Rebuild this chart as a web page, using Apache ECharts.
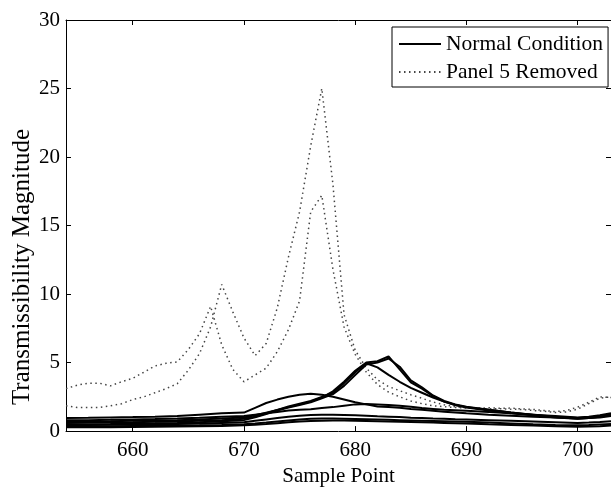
<!DOCTYPE html>
<html>
<head>
<meta charset="utf-8">
<script src="https://cdn.jsdelivr.net/npm/echarts@6/dist/echarts.min.js"></script>
<style>
html,body{margin:0;padding:0;background:#fff;}
#c{width:611px;height:492px;}
</style>
</head>
<body>
<div id="c"></div>
<script>
// ---- data ----
var xTicks = [660, 670, 680, 690, 700];
var yTicksStep = 5;

// dotted curves (Panel 5 Removed), samples 654..703
var dotX = [654,655,656,657,658,659,660,661,662,663,664,665,666,667,668,669,670,671,672,673,674,675,676,677,678,679,680,681,682,683,684,685,686,687,688,689,690,691,692,693,694,695,696,697,698,699,700,701,702,703];
var removedA = [1.85,1.72,1.72,1.72,1.84,2.0,2.3,2.5,2.8,3.1,3.45,4.45,5.65,7.6,10.7,8.7,6.8,5.5,6.4,9.0,12.7,16.0,20.8,25.0,18.0,8.5,5.9,4.6,3.75,3.25,2.95,2.65,2.4,2.12,1.92,1.77,1.7,1.68,1.7,1.66,1.68,1.62,1.58,1.5,1.42,1.5,1.75,2.1,2.5,2.45];
var removedB = [3.1,3.35,3.5,3.5,3.3,3.6,3.85,4.3,4.75,4.95,5.05,5.95,7.1,9.1,6.3,4.5,3.6,4.1,4.6,5.8,7.4,9.5,16.0,17.2,11.8,7.6,5.6,4.3,3.4,2.85,2.5,2.2,2.0,1.85,1.78,1.72,1.68,1.65,1.62,1.64,1.6,1.58,1.5,1.45,1.35,1.4,1.6,2.0,2.4,2.5];

// solid curves (Normal Condition)
var solX = [654,656,658,660,662,664,666,668,670,671,672,673,674,675,676,677,678,679,680,681,682,683,684,685,686,687,688,689,690,692,694,696,698,700,701,702,703];
var normal1 = [0.95,0.97,1.0,1.02,1.05,1.1,1.2,1.3,1.35,1.7,2.05,2.3,2.5,2.65,2.72,2.65,2.5,2.3,2.1,1.95,1.8,1.75,1.7,1.62,1.55,1.48,1.42,1.36,1.3,1.2,1.12,1.05,1.0,0.95,1.0,1.1,1.2];
var normal2 = [0.7,0.7,0.72,0.75,0.78,0.8,0.85,0.92,1.0,1.15,1.35,1.55,1.75,1.95,2.15,2.45,2.9,3.6,4.4,5.0,5.1,5.45,4.5,3.55,3.1,2.55,2.15,1.9,1.75,1.55,1.35,1.2,1.05,0.95,1.0,1.05,1.15];
var normal3 = [0.6,0.62,0.63,0.65,0.68,0.7,0.75,0.8,0.9,1.05,1.3,1.55,1.8,2.0,2.2,2.5,2.8,3.5,4.3,4.95,4.65,4.1,3.6,3.15,2.8,2.45,2.15,1.9,1.72,1.5,1.3,1.15,1.0,0.9,0.95,1.0,1.1];
var normal4 = [0.5,0.5,0.52,0.55,0.57,0.6,0.65,0.72,0.8,1.0,1.25,1.5,1.72,1.9,2.1,2.4,2.7,3.3,4.1,4.85,5.0,5.3,4.7,3.7,3.2,2.6,2.2,1.95,1.78,1.55,1.35,1.18,1.02,0.9,0.95,1.05,1.2];
var normal5 = [0.8,0.8,0.82,0.85,0.88,0.92,0.97,1.05,1.1,1.2,1.3,1.4,1.5,1.55,1.6,1.68,1.75,1.85,1.95,1.97,1.95,1.9,1.85,1.78,1.68,1.62,1.56,1.52,1.48,1.4,1.3,1.2,1.1,1.0,1.05,1.15,1.3];
var normal6 = [0.45,0.45,0.46,0.48,0.5,0.52,0.55,0.6,0.65,0.75,0.85,0.95,1.05,1.12,1.18,1.2,1.2,1.18,1.15,1.12,1.08,1.05,1.02,0.98,0.95,0.92,0.9,0.87,0.85,0.8,0.75,0.7,0.65,0.6,0.62,0.66,0.72];
var normal7 = [0.35,0.35,0.35,0.37,0.38,0.4,0.42,0.45,0.5,0.55,0.62,0.7,0.78,0.85,0.9,0.92,0.92,0.9,0.88,0.86,0.84,0.82,0.8,0.78,0.76,0.74,0.72,0.7,0.68,0.62,0.56,0.5,0.45,0.42,0.44,0.48,0.52];
var normal8 = [0.28,0.28,0.29,0.3,0.31,0.33,0.35,0.38,0.42,0.47,0.52,0.58,0.64,0.7,0.74,0.76,0.77,0.77,0.76,0.74,0.72,0.7,0.68,0.66,0.64,0.62,0.6,0.58,0.56,0.5,0.45,0.4,0.35,0.32,0.33,0.36,0.4];

var normalSets = [normal1, normal2, normal3, normal4, normal5, normal6, normal7, normal8];
var removedSets = [removedA, removedB];

// ---- chart ----
var FONT = '"Liberation Serif","Times New Roman",serif';
function pairs(xs, ys) { return xs.map(function (x, i) { return [x, ys[i]]; }); }

var series = [];
removedSets.forEach(function (ys) {
  series.push({
    name: 'Panel 5 Removed', type: 'line', symbol: 'none', silent: true,
    data: pairs(dotX, ys),
    lineStyle: { color: '#444', width: 1.5, type: [1.5, 3.5] },
    itemStyle: { color: '#444' }, z: 2
  });
});
normalSets.forEach(function (ys) {
  series.push({
    name: 'Normal Condition', type: 'line', symbol: 'none', silent: true,
    data: pairs(solX, ys),
    lineStyle: { color: '#000', width: 2 },
    itemStyle: { color: '#000' }, z: 3
  });
});

var axisCommon = {
  axisLine: { show: true, onZero: false, lineStyle: { color: '#000', width: 1 } },
  splitLine: { show: false }
};

var option = {
  animation: false,
  backgroundColor: '#fff',
  grid: { left: 66, top: 20, width: 546.8, height: 419 },
  xAxis: [
    Object.assign({
      type: 'value', min: 654, max: 703, position: 'bottom',
      axisTick: { inside: true, length: 5, customValues: xTicks, lineStyle: { color: '#000' } },
      axisLabel: { customValues: xTicks, color: '#000', fontFamily: FONT, fontSize: 21, margin: 9 },
      name: 'Sample Point', nameLocation: 'middle', nameGap: 34,
      nameTextStyle: { color: '#000', fontFamily: FONT, fontSize: 21 }
    }, axisCommon),
    Object.assign({
      type: 'value', min: 654, max: 703, position: 'top',
      axisTick: { inside: true, length: 5, customValues: xTicks, lineStyle: { color: '#000' } },
      axisLabel: { show: false }
    }, axisCommon)
  ],
  yAxis: [
    Object.assign({
      type: 'value', min: 0, max: 30, interval: yTicksStep, position: 'left',
      axisTick: { inside: true, length: 5, lineStyle: { color: '#000' } },
      axisLabel: { color: '#000', fontFamily: FONT, fontSize: 21, margin: 6 }
    }, axisCommon),
    Object.assign({
      type: 'value', min: 0, max: 30, interval: yTicksStep, position: 'right',
      axisTick: { inside: true, length: 5, lineStyle: { color: '#000' } },
      axisLabel: { show: false }
    }, axisCommon)
  ],
  legend: {
    data: ['Normal Condition', 'Panel 5 Removed'],
    orient: 'vertical', left: 392, top: 27,
    itemWidth: 42, itemHeight: 20, itemGap: 6,
    padding: [6, 5, 4, 6],
    borderColor: '#000', borderWidth: 1, backgroundColor: '#fff',
    selectedMode: false,
    itemStyle: { color: 'rgba(0,0,0,0)', borderWidth: 0, opacity: 0 },
    textStyle: { color: '#000', fontFamily: FONT, fontSize: 21.5 },
    z: 10
  },
  graphic: [{
    type: 'text', x: 22, y: 267, rotation: Math.PI / 2,
    style: { text: 'Transmissibility Magnitude', fill: '#000', font: '25px ' + FONT, align: 'center', verticalAlign: 'middle' }
  }],
  series: series
};

var chart = echarts.init(document.getElementById('c'), null, { renderer: 'canvas' });
chart.setOption(option);
</script>
</body>
</html>
